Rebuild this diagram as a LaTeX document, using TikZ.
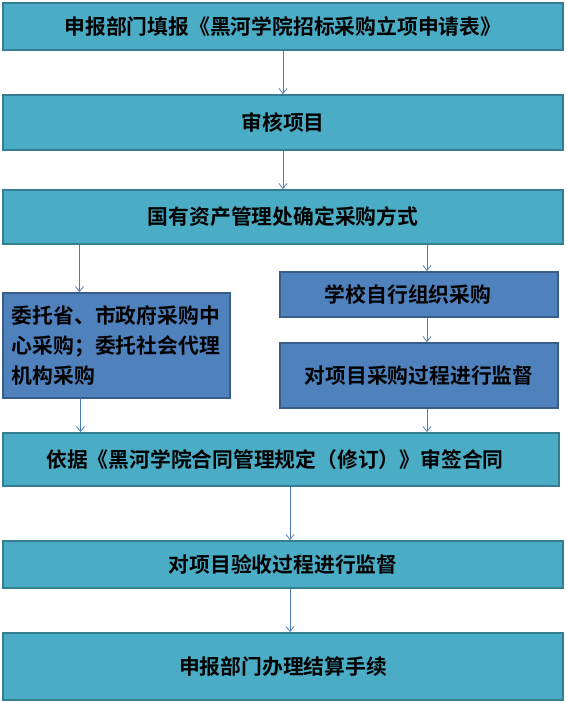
\documentclass[tikz,border=0pt]{standalone}
\usepackage{fontspec}
\usepackage{xcolor}
\usepackage{tikz}
\usetikzlibrary{arrows.meta,positioning}
\newfontfamily\cjk{Noto Sans CJK SC}[BoldFont={Noto Sans CJK SC Bold}]
\definecolor{stepTeal}{HTML}{4BACC6}
\definecolor{stepTealLine}{HTML}{357D91}
\definecolor{stepBlue}{HTML}{4F81BD}
\definecolor{stepBlueLine}{HTML}{385D8A}
\definecolor{flowLine}{HTML}{4A7EBB}

\begin{document}
\begin{tikzpicture}[x=1pt,y=-1pt,
    tealbox/.style={draw=stepTealLine, fill=stepTeal, line width=1.8pt, inner sep=0pt,
      font=\cjk\bfseries\fontsize{20.8}{30}\selectfont, text=black},
    bluebox/.style={tealbox, draw=stepBlueLine, fill=stepBlue},
    flow/.style={draw=flowLine, line width=0.8pt, -{Straight Barb[length=5pt,width=8pt]}}]
        \useasboundingbox (0,0) rectangle (567,702);
        % Main column
        \node[tealbox, minimum width=560pt, minimum height=47pt] (apply) at (283,26.5)
          {申报部门填报《黑河学院招标采购立项申请表》};
        \node[tealbox, minimum width=560pt, minimum height=55pt] (audit) at (283,122.5) {审核项目};
        \node[tealbox, minimum width=560pt, minimum height=54pt] (mode) at (283,217)
          {国有资产管理处确定采购方式};
        % Left branch (entrusted purchase)
        \node[bluebox, minimum width=227pt, minimum height=105pt, text width=209pt, align=left]
          (entrust) at (116.5,345.5)
          {委托省、市政府采购中\\心采购；委托社会代理\\机构采购};
        % Right branch (own purchase)
        \node[bluebox, minimum width=278pt, minimum height=45pt] (self) at (419,294.5)
          {\hspace*{-22pt}学校自行组织采购};
        \node[bluebox, minimum width=278pt, minimum height=65pt] (watch) at (419,375.5)
          {对项目采购过程进行监督};
        % Contract and acceptance
        \node[tealbox, minimum width=556pt, minimum height=53pt] (contract) at (281,459.5)
          {\hspace*{-12pt}依据《黑河学院合同管理规定（修订）》审签合同};
        \node[tealbox, minimum width=560pt, minimum height=47pt] (accept) at (283,564.5)
          {对项目验收过程进行监督};
        \node[tealbox, minimum width=560pt, minimum height=67pt] (settle) at (283,666.5)
          {申报部门办理结算手续};
        % Connectors
        \draw[flow] (apply) -- (audit);
        \draw[flow] (audit) -- (mode);
        \draw[flow] ([xshift=-37pt]entrust.north |- mode.south) -- ([xshift=-37pt]entrust.north);
        \draw[flow] ([xshift=8pt]self.north |- mode.south) -- ([xshift=8pt]self.north);
        \draw[flow] ([xshift=8pt]self.south) -- ([xshift=8pt]watch.north);
        \draw[flow] ([xshift=-36pt]entrust.south) -- ([xshift=-36pt]entrust.south |- contract.north);
        \draw[flow] ([xshift=8pt]watch.south) -- ([xshift=8pt]watch.south |- contract.north);
        \draw[flow] ([xshift=9pt]contract.south) -- ([xshift=9pt]contract.south |- accept.north);
        \draw[flow] ([xshift=7pt]accept.south) -- ([xshift=7pt]settle.north);
\end{tikzpicture}
\end{document}
